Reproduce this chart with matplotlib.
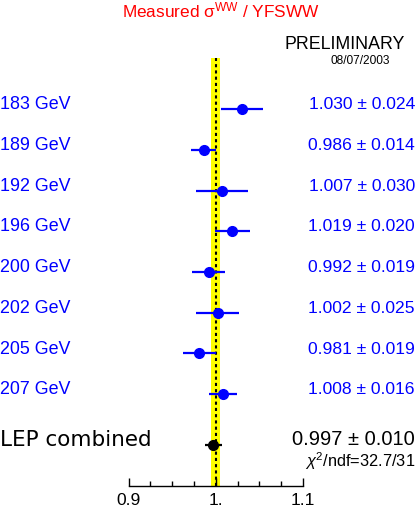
import numpy as np
import matplotlib
matplotlib.use("Agg")
import matplotlib.pyplot as plt
from matplotlib.ticker import MultipleLocator, FixedLocator, FixedFormatter

plt.rcParams['font.family'] = ['Liberation Sans', 'DejaVu Sans']
plt.rcParams['mathtext.fontset'] = 'custom'
plt.rcParams['mathtext.rm'] = 'Liberation Sans'
plt.rcParams['mathtext.it'] = 'Liberation Sans:italic'

### donnees
energies = ['183 GeV', '189 GeV', '192 GeV', '196 GeV',
            '200 GeV', '202 GeV', '205 GeV', '207 GeV']
ratio = [1.030, 0.986, 1.007, 1.019, 0.992, 1.002, 0.981, 1.008]
err = [0.024, 0.014, 0.030, 0.020, 0.019, 0.025, 0.019, 0.016]
lep_val = 0.997
lep_err = 0.010
chi2_txt = '32.7/31'
theo_band = (0.995, 1.005)   # incertitude YFSWW
xticks = [0.9, 1.0, 1.1]
xticklabels = ['0.9', '1.', '1.1']

W, H = 417, 507
fig = plt.figure(figsize=(W/100, H/100), dpi=100)

# axe : 0.9 -> x=128.7px, 1.1 -> x=303px ; bas y=486px, haut y=58px
ax = fig.add_axes([128.7/W, (H-486)/H, (303-128.7)/W, (486-58)/H])
ax.set_xlim(0.9, 1.1)
row = np.arange(len(energies))
lep_row = 8.26
ax.set_ylim(9.26, -1.26)

ax.axvspan(theo_band[0], theo_band[1], color='#ffff00', zorder=1, lw=0)
ax.axvline(1.0, color='black', ls=(0, (1.5, 1.5)), lw=1.5, zorder=2)

ax.errorbar(ratio, row, xerr=err, fmt='o', color='#0000ff', ms=7,
            elinewidth=1.6, capsize=0, zorder=3)
ax.errorbar([lep_val], [lep_row], xerr=[lep_err], fmt='o', color='black',
            ms=7, elinewidth=1.6, capsize=0, zorder=3)

for s in ['top', 'left', 'right']:
    ax.spines[s].set_visible(False)
ax.spines['bottom'].set_linewidth(1.0)
ax.set_yticks([])
ax.xaxis.set_major_locator(FixedLocator(xticks))
ax.xaxis.set_major_formatter(FixedFormatter(xticklabels))
ax.xaxis.set_minor_locator(MultipleLocator(0.025))
ax.tick_params(axis='x', which='major', direction='in', length=6, width=1,
               labelsize=12.5, pad=5)
ax.tick_params(axis='x', which='minor', direction='in', length=3.5, width=1)

# textes
def px(x, y):
    return x / W, 1 - y / H

fig.text(*px(221, 17.5), r'Measured σ$^{\rm WW}$ / YFSWW', color='red',
         fontsize=12.4, ha='center', va='baseline')
fig.text(*px(405, 49), 'PRELIMINARY', fontsize=12.8, ha='right',
         va='baseline')
fig.text(*px(390, 64), '08/07/2003', fontsize=8.6, ha='right', va='baseline')

for i, (lab, v, e) in enumerate(zip(energies, ratio, err)):
    yb = 109.3 + 40.7 * i
    fig.text(*px(0, yb), lab, color='#0000ff', fontsize=12.9, ha='left',
             va='baseline')
    fig.text(*px(415, yb), '%.3f ± %.3f' % (v, e), color='#0000ff',
             fontsize=12.6, ha='right', va='baseline')

fig.text(*px(0, 446), 'LEP combined', fontsize=15.5, ha='left',
         va='baseline', family=['DejaVu Sans'])
fig.text(*px(415, 445), '%.3f ± %.3f' % (lep_val, lep_err), fontsize=14.5,
         ha='right', va='baseline')
fig.text(*px(415, 467), r'$\chi^{2}$/ndf=$\mathit{' + chi2_txt + '}$',
         fontsize=11.8, ha='right', va='baseline')

fig.savefig('out.png', dpi=100)
